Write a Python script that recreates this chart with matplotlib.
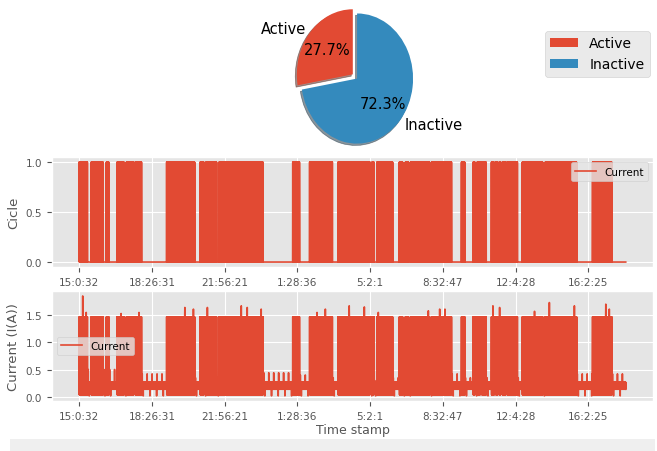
import numpy as np
import matplotlib
matplotlib.use("Agg")
from matplotlib import pyplot as plt
from matplotlib.patches import Rectangle

plt.style.use("ggplot")

pie_labels = ["Active", "Inactive"]
pie_values = [27.7, 72.3]

time_labels = ["15:0:32", "18:26:31", "21:56:21", "1:28:36",
               "5:2:1", "8:32:47", "12:4:28", "16:2:25"]
tick_step = 500
n_samples = 3758

# active periods, sample index (start, end)
active_start = [0, 82, 187, 260, 324, 384, 601, 831, 870, 961, 1468, 1584,
                1779, 2012, 2046, 2201, 2242, 2279, 2423, 2628, 2708, 2735,
                2767, 2834, 2863, 2886, 2909, 2940, 2964, 3046, 3203, 3529]
active_end = [58, 166, 205, 310, 375, 429, 795, 858, 945, 1265, 1516, 1742,
              2000, 2027, 2155, 2224, 2265, 2411, 2560, 2651, 2721, 2758,
              2799, 2854, 2877, 2899, 2932, 2959, 3014, 3187, 3420, 3662]
# highest idle current after each active period
idle_top = [0.5, 0.5, 0.5, 0.5, 0.5, 0.42, 0.35, 0.35, 0.35, 0.44, 0.4, 0.35,
            0.3, 0.3, 0.35, 0.3, 0.3, 0.3, 0.42, 0.35, 0.35, 0.35, 0.35, 0.3,
            0.3, 0.3, 0.3, 0.3, 0.35, 0.3, 0.42, 0.42]
spike_idx = [24, 48, 288, 411, 726, 785, 881, 1114, 1155, 1251, 1635, 1692,
             1856, 1960, 2056, 2400, 2478, 2514, 2844, 2890, 3130, 3232,
             3404, 3620, 3644]
spike_val = [1.84, 1.54, 1.52, 1.54, 1.63, 1.6, 1.63, 1.66, 1.63, 1.6, 1.54,
             1.6, 1.66, 1.64, 1.54, 1.57, 1.6, 1.6, 1.66, 1.63, 1.56, 1.72,
             1.66, 1.69, 1.6]
active_high = 1.46
active_low = 0.04
idle_mid = 0.27
idle_low = 0.14
idle_dip = 0.02

cicle = np.zeros(n_samples)
current = np.zeros(n_samples)
for k in range(len(active_start)):
    s, e = active_start[k], active_end[k]
    nxt = active_start[k + 1] if k + 1 < len(active_start) else n_samples
    cicle[s:e:2] = 1
    current[s:e:2] = active_high
    current[s + 1:e:2] = active_low
    current[e:nxt:2] = idle_mid
    current[e + 1:nxt:2] = idle_low
    current[e + 4:nxt:34] = idle_top[k]
    current[e + 11:nxt:46] = idle_dip
for i, v in zip(spike_idx, spike_val):
    current[i] = v
x = np.arange(n_samples)
ticks = np.arange(len(time_labels)) * tick_step

fig = plt.figure(figsize=(6.57, 4.52), dpi=100)
fig.patch.set_facecolor("white")

# pie
ax_pie = fig.add_axes([0.437, 0.644, 0.213, 0.36])
wedges, texts, autotexts = ax_pie.pie(
    pie_values, labels=pie_labels, explode=(0.1, 0), autopct="%1.1f%%",
    shadow=True, startangle=90, textprops={"fontsize": 10.5})
ax_pie.set_aspect("auto")
ax_pie.legend(wedges, pie_labels, loc="upper right", fontsize=10,
              bbox_to_anchor=(1.0, 0.945), bbox_transform=fig.transFigure)

# cicle
ax1 = fig.add_axes([0.079, 0.407, 0.915, 0.243])
ax1.plot(x, cicle, label="Current", lw=1.2)
ax1.set_ylabel("Cicle", fontsize=9.5)
ax1.set_xticks(ticks)
ax1.set_xticklabels(time_labels)
ax1.set_yticks([0.0, 0.5, 1.0])
ax1.tick_params(labelsize=7.5)
ax1.legend(loc="upper right", fontsize=7.5)

# current
ax2 = fig.add_axes([0.079, 0.111, 0.915, 0.243])
ax2.plot(x, current, label="Current", lw=1.2)
ax2.set_ylabel("Current (I(A))", fontsize=9.5)
ax2.set_xlabel("Time stamp", fontsize=9, labelpad=2)
ax2.set_xticks(ticks)
ax2.set_xticklabels(time_labels)
ax2.set_yticks([0.0, 0.5, 1.0, 1.5])
ax2.tick_params(labelsize=7.5)
ax2.legend(loc="center left", fontsize=7.5)

fig.add_artist(Rectangle((0.015, 0.0), 0.982, 0.027, transform=fig.transFigure,
                         facecolor="#efefef", edgecolor="none", zorder=-1))

fig.savefig("out.png", dpi=100)
